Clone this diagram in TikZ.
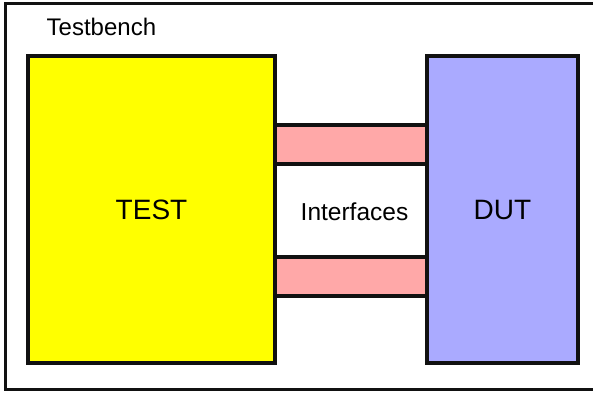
\documentclass[tikz,border=0pt]{standalone}
\usepackage{fontspec}
\setmainfont{Liberation Sans}
\definecolor{testfill}{HTML}{FFFF00}
\definecolor{dutfill}{HTML}{AAAAFF}
\definecolor{iffill}{HTML}{FFA8A8}
\definecolor{edge}{HTML}{111111}
\tikzset{
  block/.style={draw=edge, line width=3.2bp, rectangle, inner sep=0pt, anchor=center},
  bigtext/.style={font=\fontsize{28bp}{30bp}\selectfont},
  label/.style={inner sep=0pt, font=\fontsize{24bp}{26bp}\selectfont},
}
\begin{document}
\begin{tikzpicture}[x=1bp, y=-1bp]
  \useasboundingbox (0,0) rectangle (593,392);
  % testbench frame (runs past the right edge)
  \draw[draw=edge, line width=2.5bp] (5.5,3.5) rectangle (605,389.5);
  \node[label, anchor=base west] (tb) at (46.5,35) {Testbench};
  % interface channels
  \node[block, fill=iffill, minimum width=152bp, minimum height=39bp] (ifa) at (351,144.5) {};
  \node[block, fill=iffill, minimum width=152bp, minimum height=39bp] (ifb) at (351,276.5) {};
  % test and device blocks
  \node[block, bigtext, fill=testfill, minimum width=247bp, minimum height=307bp] (test) at (151.5,209.5) {TEST};
  \node[block, bigtext, fill=dutfill, minimum width=151bp, minimum height=307bp] (dut) at (502.5,209.5) {DUT};
  \node[label, font=\fontsize{24.5bp}{26bp}\selectfont, anchor=base] (ifl) at (354.5,220) {Interfaces};
\end{tikzpicture}
\end{document}
